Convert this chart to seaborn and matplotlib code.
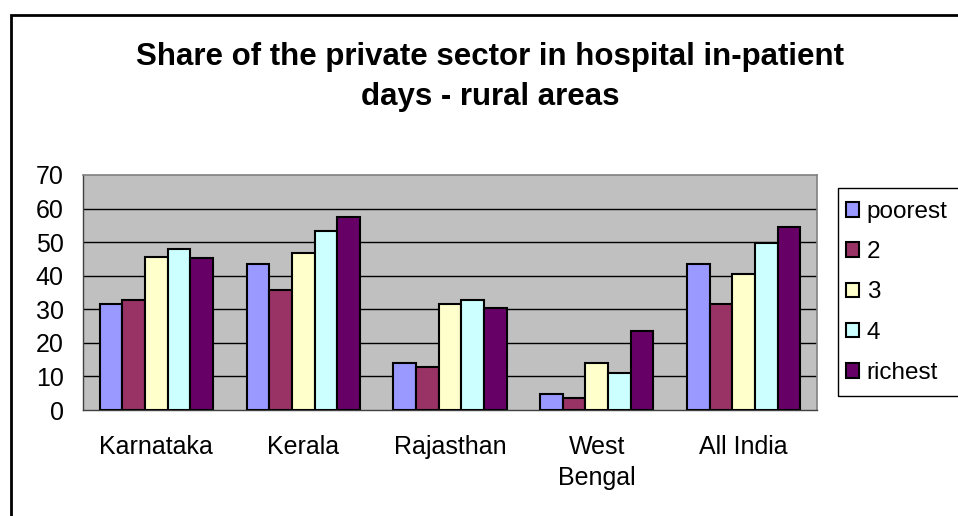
import matplotlib
matplotlib.use("Agg")
import matplotlib.pyplot as plt
from matplotlib.patches import Patch, Rectangle
import pandas as pd
import seaborn as sns

states = ["Karnataka", "Kerala", "Rajasthan", "West\nBengal", "All India"]
groups = ["poorest", "2", "3", "4", "richest"]
poorest = [31.7, 43.4, 14.1, 4.7, 43.4]
q2 = [32.8, 35.7, 12.9, 3.5, 31.7]
q3 = [45.7, 46.9, 31.6, 14.1, 40.4]
q4 = [48.0, 53.4, 32.9, 11.1, 49.8]
richest = [45.2, 57.5, 30.5, 23.4, 54.5]
yticks = [0, 10, 20, 30, 40, 50, 60, 70]
colors = ["#9999FF", "#993366", "#FFFFCC", "#CCFFFF", "#660066"]

series = [poorest, q2, q3, q4, richest]
rows = []
for g, vals in zip(groups, series):
    for s, v in zip(states, vals):
        rows.append({"state": s, "group": g, "share": v})
df = pd.DataFrame(rows)

sns.set_style("white")
plt.rcParams["font.family"] = ["Liberation Sans", "DejaVu Sans"]
plt.rcParams["text.color"] = "black"
plt.rcParams["xtick.color"] = "black"
plt.rcParams["ytick.color"] = "black"

W, H = 958, 516
fs = 18
fig = plt.figure(figsize=(W / 100, H / 100), dpi=100)
ax = fig.add_axes([83 / W, 1 - 410 / H, (817 - 83) / W, (410 - 175) / H])
ax.set_facecolor("#C0C0C0")

sns.barplot(data=df, x="state", y="share", hue="group", order=states,
            hue_order=groups, palette=colors, width=0.77, saturation=1,
            edgecolor="black", linewidth=1.5, legend=False, ax=ax, zorder=3)

ax.set_ylim(0, 70)
ax.set_xlim(-0.5, len(states) - 0.5)
ax.set_yticks(yticks)
ax.set_yticklabels([str(t) for t in yticks], fontsize=fs)
ax.set_xticks(range(len(states)))
ax.set_xticklabels(states, fontsize=fs, linespacing=1.36)
ax.set_xticks([i - 0.5 for i in range(len(states) + 1)], minor=True)
ax.tick_params(axis="x", which="major", length=0, pad=18)
ax.tick_params(axis="x", which="minor", length=5, width=1, color="#404040", direction="out")
ax.tick_params(axis="y", which="major", length=7, width=1, color="#404040", direction="out", pad=7)
ax.set_xlabel("")
ax.set_ylabel("")

for y in yticks[1:-1]:
    ax.axhline(y, color="black", linewidth=1, zorder=1)
for side in ["top", "right"]:
    ax.spines[side].set_color("#808080")
    ax.spines[side].set_linewidth(1.2)
for side in ["left", "bottom"]:
    ax.spines[side].set_color("#404040")
    ax.spines[side].set_linewidth(1)

title_x = 490.5 / W
fig.text(title_x, 1 - 65 / H, "Share of the private sector in hospital in-patient",
         ha="center", va="baseline", fontsize=22.5, fontweight="bold")
fig.text(title_x, 1 - 105 / H, "days - rural areas",
         ha="center", va="baseline", fontsize=22.5, fontweight="bold")

# outer chart frame
fig.patches.append(Rectangle((11 / W, -0.1), 1.2, 1 - 15 / H + 0.1,
                             transform=fig.transFigure, fill=False,
                             edgecolor="black", linewidth=2))
# legend frame
fig.patches.append(Rectangle((838 / W, 1 - 396 / H), 0.3, (396 - 188) / H,
                             transform=fig.transFigure, fill=False,
                             edgecolor="black", linewidth=1))

handles = [Patch(facecolor=c, edgecolor="black", linewidth=1.5) for c in colors]
fig.legend(handles, groups, loc="upper left", bbox_to_anchor=(846 / W, 1 - 201 / H),
           frameon=False, fontsize=17.5, handlelength=0.55, handleheight=0.55,
           handletextpad=0.3, labelspacing=0.75, borderaxespad=0, borderpad=0)

fig.savefig("out.png", dpi=100)
